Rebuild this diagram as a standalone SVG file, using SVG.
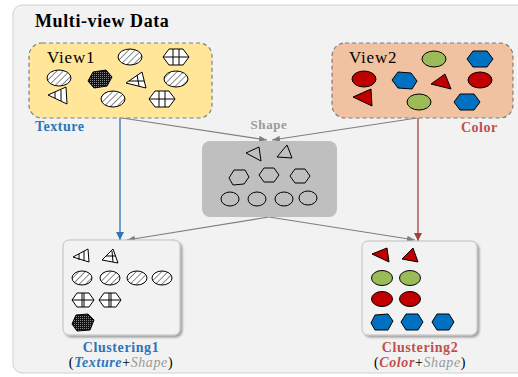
<svg xmlns="http://www.w3.org/2000/svg" width="518" height="377" viewBox="0 0 518 377">
<defs>
<style>
.t{font-family:"Liberation Serif","Times New Roman",serif}
.b{font-weight:bold}
.o{stroke:#000;stroke-width:1}
.hat{fill:url(#hatch);stroke:#000;stroke-width:1}
.grd{fill:#fff;stroke:#000;stroke-width:1}
.gl{stroke:#000;stroke-width:1}
.dns{fill:url(#dense);stroke:#000;stroke-width:1}
.emp{fill:none;stroke:#000;stroke-width:1}
.red{fill:#C00000;stroke:#000;stroke-width:1}
.grn{fill:#9BBB59;stroke:#000;stroke-width:1}
.blu{fill:#0070C0;stroke:#000;stroke-width:1}
.cg{fill:none;stroke:#7f7f7f;stroke-width:1.2}
</style>
<pattern id="hatch" width="4.5" height="4.5" patternUnits="userSpaceOnUse" patternTransform="rotate(45)">
<rect width="4.5" height="4.5" fill="#fff"/>
<line x1="0" y1="0" x2="0" y2="4.5" stroke="#000" stroke-width="0.9"/>
</pattern>
<pattern id="dense" width="2" height="2" patternUnits="userSpaceOnUse">
<rect width="2" height="2" fill="#111"/>
<rect width="1" height="1" fill="#888"/>
</pattern>
<marker id="ag" markerWidth="8" markerHeight="6" refX="8" refY="3" orient="auto" markerUnits="userSpaceOnUse"><path d="M0,0 L8,3 L0,6 Z" fill="#7f7f7f"/></marker>
<marker id="ab" markerWidth="8" markerHeight="8" refX="8" refY="4" orient="auto" markerUnits="userSpaceOnUse"><path d="M0,0 L8,4 L0,8 Z" fill="#2E75B6"/></marker>
<marker id="ar" markerWidth="8" markerHeight="8" refX="8" refY="4" orient="auto" markerUnits="userSpaceOnUse"><path d="M0,0 L8,4 L0,8 Z" fill="#A5403C"/></marker>
<filter id="sh" x="-10%" y="-10%" width="130%" height="130%"><feDropShadow dx="2" dy="2" stdDeviation="1.2" flood-color="#000" flood-opacity="0.35"/></filter>
</defs>

<rect x="13" y="5" width="520" height="368" rx="9" fill="#f2f2f2" stroke="#d0d0d0" stroke-width="1"/>
<text class="t b" x="35" y="27" font-size="18" letter-spacing="0.6" fill="#000">Multi-view Data</text>

<g id="connectors">
<line x1="120" y1="118" x2="120" y2="240" stroke="#2E75B6" stroke-width="1.3" marker-end="url(#ab)"/>
<line x1="418" y1="118" x2="418" y2="241" stroke="#A5403C" stroke-width="1.3" marker-end="url(#ar)"/>
<line class="cg" x1="122" y1="118" x2="267" y2="140" marker-end="url(#ag)"/>
<line class="cg" x1="417" y1="118" x2="272" y2="140" marker-end="url(#ag)"/>
<line class="cg" x1="269" y1="217" x2="127" y2="240" marker-end="url(#ag)"/>
<line class="cg" x1="269" y1="217" x2="415" y2="240" marker-end="url(#ag)"/>
</g>

<g id="view1">
<rect x="29" y="43" width="183" height="75" rx="13" fill="#FFE699" stroke="#7f7f7f" stroke-width="1.2" stroke-dasharray="4,3"/>
<text class="t" x="47" y="63" font-size="17" letter-spacing="0.8" fill="#000">View1</text>
<ellipse class="hat" cx="130" cy="57" rx="12" ry="8"/>
<polygon class="grd" points="163,57 169,49 183,49 189,57 183,65 169,65"/>
<line class="gl" x1="173" y1="49" x2="173" y2="65"/><line class="gl" x1="179" y1="49" x2="179" y2="65"/><line class="gl" x1="163" y1="57" x2="189" y2="57"/>
<ellipse class="hat" cx="59" cy="78" rx="12" ry="8"/>
<polygon class="dns" points="88,81 93,72 106,70 112,77 107,86 94,88"/>
<polygon class="grd" points="142,72 146,88 126,83"/>
<line class="gl" x1="137" y1="75" x2="139" y2="86"/><line class="gl" x1="129" y1="81" x2="144" y2="81"/>
<ellipse class="hat" cx="176" cy="79" rx="12" ry="8"/>
<polygon class="grd" points="48,95 66,87 67,104"/>
<line class="gl" x1="55" y1="92" x2="55" y2="98"/><line class="gl" x1="61" y1="90" x2="61" y2="101"/>
<ellipse class="hat" cx="113" cy="99" rx="12" ry="8"/>
<polygon class="grd" points="149,99 155,91 169,91 175,99 169,107 155,107"/>
<line class="gl" x1="159" y1="91" x2="159" y2="107"/><line class="gl" x1="165" y1="91" x2="165" y2="107"/><line class="gl" x1="149" y1="99" x2="175" y2="99"/>
<text class="t b" x="35" y="131" font-size="14" letter-spacing="0.5" fill="#2E75B6">Texture</text>
</g>

<g id="view2">
<rect x="332" y="43" width="181" height="75" rx="13" fill="#F0C2A1" stroke="#7f7f7f" stroke-width="1.2" stroke-dasharray="4,3"/>
<text class="t" x="349" y="63" font-size="17" letter-spacing="0.8" fill="#000">View2</text>
<ellipse class="grn" cx="434" cy="59" rx="12" ry="8"/>
<polygon class="blu" points="467,59 473,51 487,51 493,59 487,67 473,67"/>
<ellipse class="red" cx="364" cy="79" rx="12" ry="8"/>
<polygon class="blu" points="392,80 398,72 411,73 417,81 412,89 398,88"/>
<polygon class="red" points="445,74 451,89 431,84"/>
<ellipse class="red" cx="480" cy="80" rx="12" ry="8"/>
<polygon class="red" points="353,97 371,89 372,106"/>
<ellipse class="grn" cx="419" cy="102" rx="12" ry="8"/>
<polygon class="blu" points="454,102 460,94 474,94 480,102 474,110 460,110"/>
<text class="t b" x="461" y="132" font-size="14" letter-spacing="0.5" fill="#C0504D">Color</text>
</g>

<g id="shape">
<text class="t b" x="269" y="129" font-size="13" letter-spacing="0.6" text-anchor="middle" fill="#999999">Shape</text>
<rect x="202" y="141" width="135" height="76" rx="8" fill="#BFBFBF"/>
<polygon class="emp" points="246,153 259,147 261,161"/>
<polygon class="emp" points="287,145 277,157 292,158"/>
<polygon class="emp" points="229,178 234,170 245,170 249,177 244,184 233,185"/>
<polygon class="emp" points="259,175 264,168 274,168 279,175 274,182 264,182"/>
<polygon class="emp" points="290,176 295,169 305,169 310,176 305,183 295,183"/>
<ellipse class="emp" cx="230" cy="199" rx="9" ry="7"/>
<ellipse class="emp" cx="257" cy="199" rx="9" ry="7"/>
<ellipse class="emp" cx="284" cy="199" rx="9" ry="7"/>
<ellipse class="emp" cx="308" cy="198" rx="9" ry="7"/>
</g>

<g id="clustering1">
<rect x="63" y="240" width="117" height="95" rx="6" fill="#f2f2f2" stroke="#bfbfbf" stroke-width="1" filter="url(#sh)"/>
<polygon class="grd" points="73,257 88,249 89,262"/>
<line class="gl" x1="79" y1="254" x2="79" y2="260"/><line class="gl" x1="84" y1="251" x2="84" y2="261"/>
<polygon class="grd" points="113,249 102,260 118,263"/>
<line class="gl" x1="112" y1="251" x2="113" y2="262"/><line class="gl" x1="106" y1="256" x2="116" y2="256"/>
<ellipse class="hat" cx="82" cy="278" rx="10" ry="7"/>
<ellipse class="hat" cx="110" cy="278" rx="10" ry="7"/>
<ellipse class="hat" cx="137" cy="278" rx="10" ry="7"/>
<ellipse class="hat" cx="162" cy="278" rx="10" ry="7"/>
<polygon class="grd" points="72,300 77,293 89,293 94,300 89,307 77,307"/>
<line class="gl" x1="82" y1="293" x2="82" y2="307"/><line class="gl" x1="84" y1="293" x2="84" y2="307"/><line class="gl" x1="72" y1="300" x2="94" y2="300"/>
<polygon class="grd" points="99,300 104,293 116,293 121,300 116,307 104,307"/>
<line class="gl" x1="109" y1="293" x2="109" y2="307"/><line class="gl" x1="111" y1="293" x2="111" y2="307"/><line class="gl" x1="99" y1="300" x2="121" y2="300"/>
<polygon class="dns" points="72,324 76,315 88,314 94,320 90,330 77,331"/>
<text class="t b" x="121" y="352" font-size="14" letter-spacing="0.6" text-anchor="middle" fill="#2E75B6">Clustering1</text>
<text class="t" x="121" y="367" font-size="14" letter-spacing="0.6" text-anchor="middle" fill="#000">(<tspan fill="#2E75B6" font-weight="bold" font-style="italic">Texture</tspan>+<tspan fill="#999999" font-style="italic">Shape</tspan>)</text>
</g>

<g id="clustering2">
<rect x="362" y="241" width="115" height="94" rx="6" fill="#f2f2f2" stroke="#bfbfbf" stroke-width="1" filter="url(#sh)"/>
<polygon class="red" points="372,254 387,248 389,262"/>
<polygon class="red" points="413,248 402,259 418,262"/>
<ellipse class="grn" cx="382" cy="278" rx="10.5" ry="7.5"/>
<ellipse class="grn" cx="410" cy="278" rx="10.5" ry="7.5"/>
<ellipse class="red" cx="382" cy="299" rx="10.5" ry="7.5"/>
<ellipse class="red" cx="410" cy="299" rx="10.5" ry="7.5"/>
<polygon class="blu" points="371,323 375,315 388,314 393,321 388,330 375,330"/>
<polygon class="blu" points="401,322 406,314 418,314 423,322 418,330 406,330"/>
<polygon class="blu" points="432,322 437,314 449,314 454,322 449,330 437,330"/>
<text class="t b" x="420" y="352" font-size="14" letter-spacing="0.6" text-anchor="middle" fill="#C0504D">Clustering2</text>
<text class="t" x="420" y="367" font-size="14" letter-spacing="0.6" text-anchor="middle" fill="#000">(<tspan fill="#C0504D" font-weight="bold" font-style="italic">Color</tspan>+<tspan fill="#999999" font-style="italic">Shape</tspan>)</text>
</g>
</svg>
